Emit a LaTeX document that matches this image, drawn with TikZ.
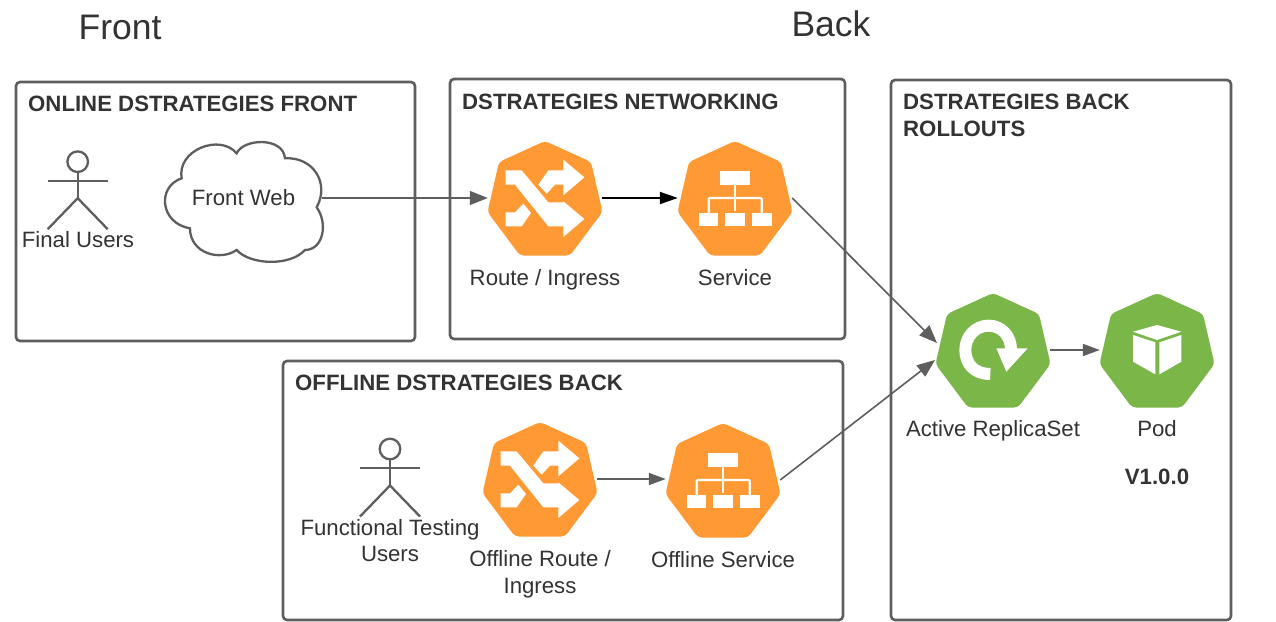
\documentclass[tikz,border=0pt]{standalone}
\usepackage{fontspec}
\setmainfont{Liberation Sans}
\usetikzlibrary{arrows.meta}
\definecolor{ink}{HTML}{333333}
\definecolor{edge}{HTML}{5E5E5E}
\definecolor{orangeK}{HTML}{FF9933}
\definecolor{greenK}{HTML}{7AB648}
\tikzset{
  x=1pt,y=-1pt,
  box/.style={draw=edge,line width=2.6pt,rounded corners=4pt},
  lbl/.style={text=ink,font=\fontsize{22.2}{27}\selectfont,align=center,inner sep=0pt},
  ttl/.style={text=ink,font=\fontsize{22.2}{27}\selectfont\bfseries,align=left,inner sep=0pt,anchor=north west},
  big/.style={text=ink,font=\fontsize{35.5}{40}\selectfont,inner sep=0pt},
  anchorbox/.style={inner sep=0pt,minimum width=114pt,minimum height=114pt,draw=none},
  conn/.style={draw=edge,line width=1.6pt,-{Triangle[length=18pt,width=14pt]}},
  connb/.style={draw=black,line width=2pt,-{Triangle[length=18pt,width=12pt]}},
  thin conn/.style={draw=edge,line width=1.6pt,-{Triangle[length=17pt,width=12pt]}},
  actorline/.style={draw=edge,line width=2.3pt},
  pics/hepta/.style={code={
    \fill[#1,rounded corners=4pt] (0,-57) -- (46,-36) -- (57.5,14) -- (25,57.5) -- (-25,57.5) -- (-57.5,14) -- (-46,-36) -- cycle;
  }},
  pics/shuffleicon/.style={code={
    \begin{scope}[x=0.3333pt,y=-0.3333pt,shift={(-225,-205)}]
    \fill[white] (107,122) -- (155,122) -- (235,218) -- (280,218) -- (280,215) -- (343,268) -- (280,322) -- (280,290) -- (235,290) -- (135,165) -- (107,165) -- cycle;
    \fill[white] (205,165) -- (235,122) -- (280,122) -- (280,90) -- (343,143) -- (280,197) -- (280,165) -- (255,165) -- (230,192) -- cycle;
    \fill[white] (107,248) -- (135,248) -- (160,222) -- (183,250) -- (155,290) -- (107,290) -- cycle;
    \end{scope}
  }},
  pics/orgicon/.style={code={
    \begin{scope}[x=0.3333pt,y=-0.3333pt,shift={(-795,-205)}]
    \fill[white] (750,123) rectangle (840,165);
    \fill[white] (687,250) rectangle (745,290);
    \fill[white] (765,250) rectangle (825,290);
    \fill[white] (845,250) rectangle (905,290);
    \draw[white,line width=2.2pt] (795,165) -- (795,245);
    \draw[white,line width=2.2pt,rounded corners=1pt] (716,250) -- (716,205) -- (875,205) -- (875,250);
    \end{scope}
  }},
  pics/cycleicon/.style={code={
    \begin{scope}[x=0.3333pt,y=-0.3333pt,shift={(-218,-210)}]
    \draw[white,line width=12pt] (210,282) .. controls (160,282) and (135,250) .. (135,210) .. controls (135,170) and (165,137) .. (205,137) .. controls (245,137) and (272,170) .. (272,208);
    \fill[white] (228,205) -- (322,205) -- (258,275) -- cycle;
    \end{scope}
  }},
  pics/cubeicon/.style={code={
    \begin{scope}[x=0.3333pt,y=-0.3333pt,shift={(-710,-210)}]
    \fill[white] (638,155) -- (710,135) -- (783,155) -- (710,180) -- cycle;
    \fill[white] (638,165) -- (705,187) -- (705,283) -- (638,245) -- cycle;
    \fill[white] (717,187) -- (783,165) -- (783,245) -- (717,283) -- cycle;
    \end{scope}
  }},
}
\newcommand{\actor}[2]{%
  \draw[actorline] (#1,#2-19) circle (10.3pt);
  \draw[actorline] (#1,#2-8.5) -- (#1,#2+17.5);
  \draw[actorline] (#1-30,#2) -- (#1+30,#2);
  \draw[actorline] (#1-30,#2+48.5) -- (#1,#2+17.5) -- (#1+30,#2+48.5);
}
\begin{document}
\begin{tikzpicture}
\useasboundingbox (0,0) rectangle (1276,621);
\fill[white] (0,0) rectangle (1276,621);

% containers
\draw[box] (16,82) rectangle (415,341);
\draw[box] (450,79) rectangle (845,339);
\draw[box] (891,80) rectangle (1231,620);
\draw[box] (283,361) rectangle (843,620);

% headings
\node[big,anchor=base] (hfront) at (120,39) {Front};
\node[big,anchor=base] (hback) at (831,36) {Back};
\node[ttl,anchor=base west] (t1) at (28,111) {ONLINE DSTRATEGIES FRONT};
\node[ttl,anchor=base west] (t2) at (462,109) {DSTRATEGIES NETWORKING};
\node[ttl,anchor=base west] (t3) at (903,109.5) {DSTRATEGIES BACK};
\node[ttl,anchor=base west] (t3b) at (903,136) {ROLLOUTS};
\node[ttl,anchor=base west] (t4) at (295,390) {OFFLINE DSTRATEGIES BACK};

% actors
\actor{77.7}{180.7}
\actor{390}{468}
\node[lbl,anchor=base] (fu) at (78,247) {Final Users};
\node[lbl,anchor=base] (ft1) at (390,535) {Functional Testing};
\node[lbl,anchor=base] (ft2) at (390,561) {Users};

% cloud
\begin{scope}[x=0.3333pt,y=-0.3333pt,shift={(60,390)}]
\draw[draw=edge,line width=2.3pt,fill=white] (485,145) .. controls (470,60) and (600,10) .. (650,70) .. controls (670,25) and (790,20) .. (795,85) .. controls (880,80) and (930,160) .. (890,232) .. controls (925,280) and (910,360) .. (855,360) .. controls (810,410) and (690,405) .. (650,360) .. controls (600,395) and (510,370) .. (510,295) .. controls (420,280) and (410,170) .. (485,145) -- cycle;
\end{scope}
\node[lbl] (cloud) at (243.5,198) {Front Web};
\coordinate (cloudE) at (322,198);

% icons
\pic at (545,198) {hepta=orangeK}; \pic at (545,198) {shuffleicon};
\node[anchorbox] (route) at (545,198) {};
\pic at (735,198) {hepta=orangeK}; \pic at (735,198) {orgicon};
\node[anchorbox] (service) at (735,198) {};
\pic at (540,479) {hepta=orangeK}; \pic at (540,479) {shuffleicon};
\node[anchorbox] (oroute) at (540,479) {};
\pic at (723,480) {hepta=orangeK}; \pic at (723,480) {orgicon};
\node[anchorbox] (oservice) at (723,480) {};
\pic at (993,350) {hepta=greenK}; \pic at (993,350) {cycleicon};
\node[anchorbox] (rs) at (993,350) {};
\pic at (1157,350) {hepta=greenK}; \pic at (1157,350) {cubeicon};
\node[anchorbox] (pod) at (1157,350) {};

\coordinate (rsA) at (937,343);
\coordinate (rsB) at (935,360);

% labels
\node[lbl,anchor=base] (l1) at (545,285) {Route / Ingress};
\node[lbl,anchor=base] (l2) at (735,285) {Service};
\node[lbl,anchor=base] (l3) at (540,566) {Offline Route /};
\node[lbl,anchor=base] (l3b) at (540,593) {Ingress};
\node[lbl,anchor=base] (l4) at (723,567) {Offline Service};
\node[lbl,anchor=base] (l5) at (993,436) {Active ReplicaSet};
\node[lbl,anchor=base] (l6) at (1157,436) {Pod};
\node[lbl,anchor=base,font=\fontsize{22.2}{27}\selectfont\bfseries] (l7) at (1157,484) {V1.0.0};

% connectors
\draw[conn] (cloudE) -- (route.west);
\draw[connb] (route.east) -- (service.west);
\draw[conn] (service.east) -- (rsA);
\draw[conn] (oservice.east) -- (rsB);
\draw[thin conn] (oroute.east) -- (oroute.east -| oservice.west);
\draw[thin conn] (rs.east) -- (pod.west);
\end{tikzpicture}
\end{document}
